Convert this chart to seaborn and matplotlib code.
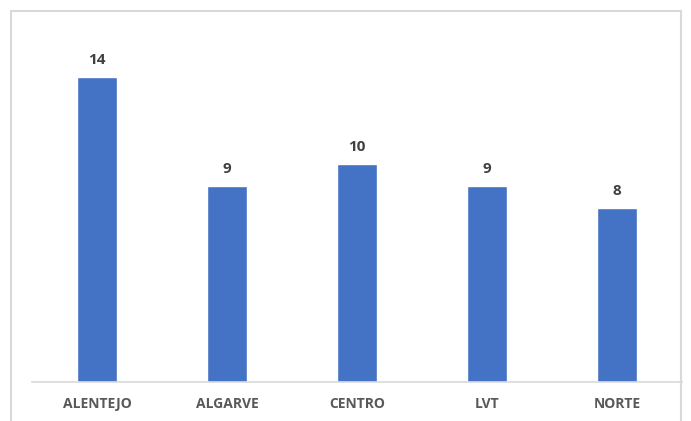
import matplotlib
matplotlib.use("Agg")
import matplotlib.pyplot as plt
import pandas as pd
import seaborn as sns
from matplotlib.patches import Rectangle

regions = ["ALENTEJO", "ALGARVE", "CENTRO", "LVT", "NORTE"]
counts = [14, 9, 10, 9, 8]

df = pd.DataFrame({"region": regions, "count": counts})

sns.set_style("white")
plt.rcParams["font.family"] = ["Open Sans", "DejaVu Sans"]

fig = plt.figure(figsize=(6.91, 4.21), dpi=100)
ax = fig.add_axes([32 / 691, 39 / 421, 650 / 691, 349 / 421])

sns.barplot(data=df, x="region", y="count", color="#4472C4", width=0.31,
            saturation=1, ax=ax)

for i, v in enumerate(counts):
    ax.annotate(str(v), (i, v), xytext=(0, 7), textcoords="offset points",
                ha="center", va="bottom", fontsize=11, fontweight="bold",
                color="#404040")

ax.set_xlim(-0.5, 4.5)
ax.set_ylim(0, 16)
ax.set_xlabel("")
ax.set_ylabel("")
ax.set_yticks([])
ax.tick_params(axis="x", length=0, pad=11, labelsize=10, labelcolor="#595959")
for lbl in ax.get_xticklabels():
    lbl.set_fontweight("bold")
for s in ["top", "right", "left"]:
    ax.spines[s].set_visible(False)
ax.spines["bottom"].set_color("#D9D9D9")
ax.spines["bottom"].set_linewidth(1.2)

# chart frame
fig.patches.append(Rectangle((11 / 691, -0.05), 670 / 691, 1.05 - 11 / 421,
                             transform=fig.transFigure, fill=False,
                             edgecolor="#D9D9D9", linewidth=1.5))

fig.savefig("out.png", dpi=100)
